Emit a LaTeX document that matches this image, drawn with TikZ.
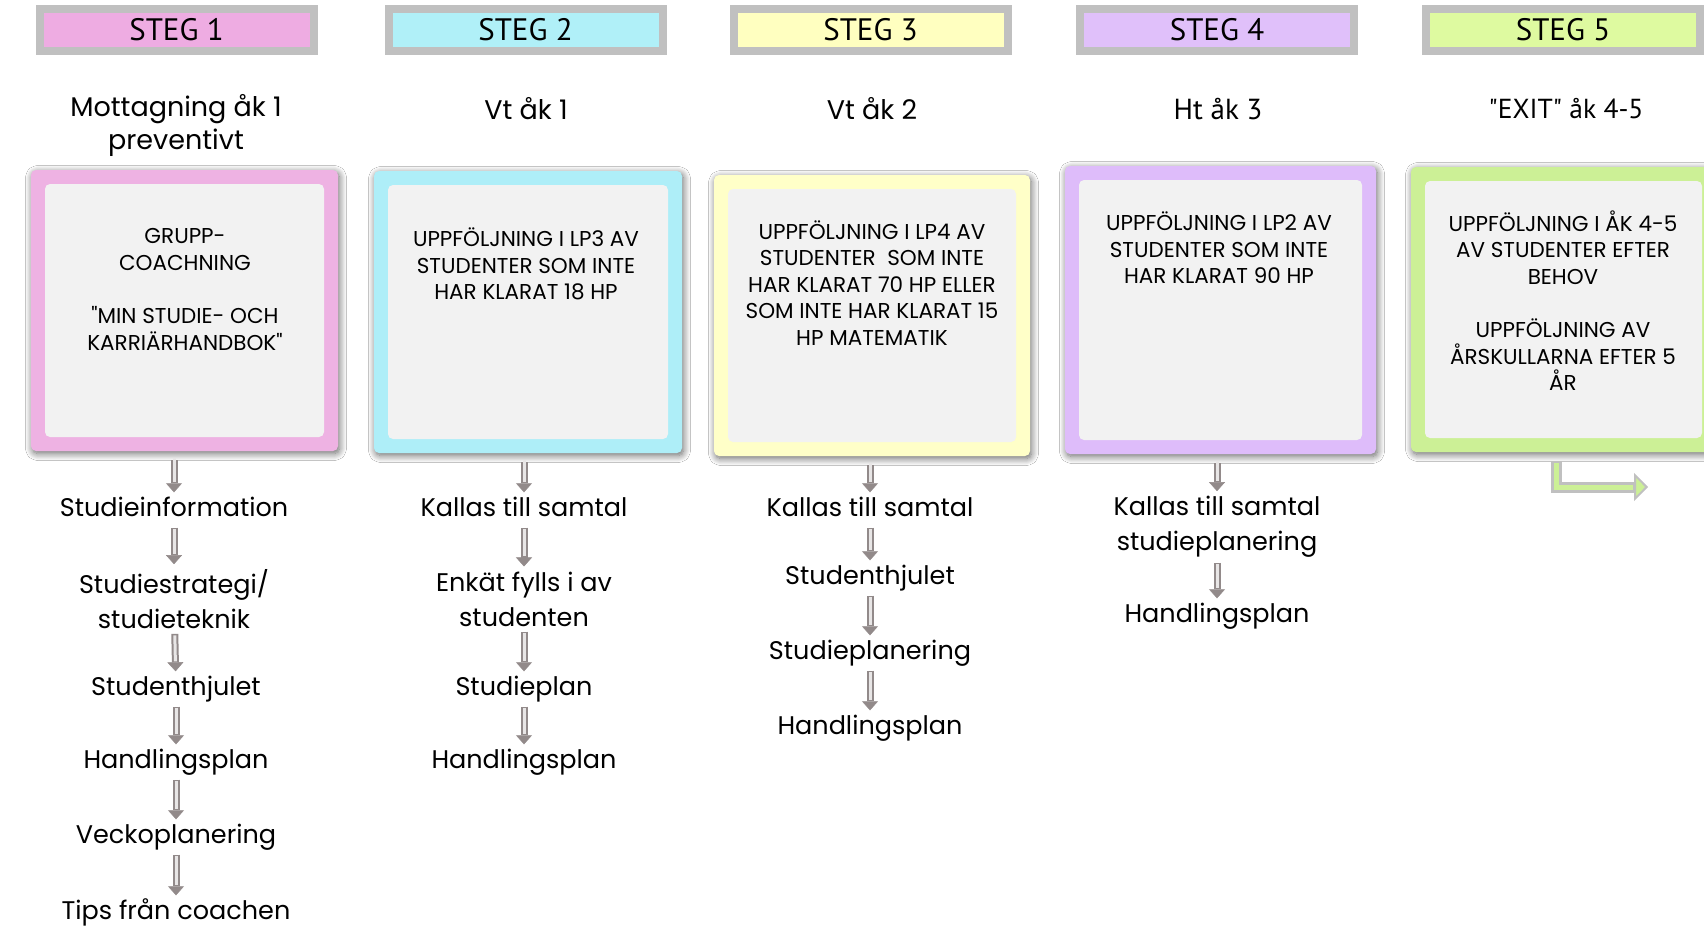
\documentclass[tikz,border=0pt]{standalone}
\usepackage{fontspec}
\setmainfont{Poppins}[Ligatures=TeXOff]
\newfontfamily\stegfont{PT Sans}
\usepackage{tikz}
\usetikzlibrary{positioning}
\usetikzlibrary{arrows.meta}
\usetikzlibrary{shadows.blur}

\definecolor{framegray}{RGB}{192,192,192}
\definecolor{boxfill}{RGB}{242,242,242}
\definecolor{arrowgray}{RGB}{146,138,138}
\definecolor{arrowfill}{RGB}{232,230,230}
\definecolor{pinkhd}{RGB}{238,172,226}
\definecolor{cyanhd}{RGB}{176,240,248}
\definecolor{yellowhd}{RGB}{255,255,192}
\definecolor{lilachd}{RGB}{224,192,250}
\definecolor{greenhd}{RGB}{222,250,160}
\definecolor{pinkbox}{RGB}{238,178,227}
\definecolor{cyanbox}{RGB}{174,238,248}
\definecolor{yellowbox}{RGB}{255,255,200}
\definecolor{lilacbox}{RGB}{222,188,250}
\definecolor{greenbox}{RGB}{204,240,150}

\tikzset{
    stegbox/.style={draw=framegray, line width=8pt,
        minimum width=274pt, minimum height=42pt, inner sep=0pt,
        font=\stegfont\fontsize{31}{33}\selectfont},
    termtext/.style={align=center, inner sep=0pt,
        font=\fontsize{27}{33}\selectfont},
    coachbox/.style={rounded corners=5pt, inner sep=0pt,
        blur shadow={shadow blur steps=10, shadow xshift=1.5pt,
            shadow yshift=-2.5pt, shadow blur radius=7pt, shadow opacity=60},
        path picture={\fill[boxfill]
            ([shift={(14pt,-14pt)}]path picture bounding box.north west)
            rectangle
            ([shift={(-14pt,14pt)}]path picture bounding box.south east);}},
    boxtext/.style={align=center, inner sep=0pt,
        font=\fontsize{21.5}{26.6}\selectfont},
    flowitem/.style={align=center, inner sep=0pt,
        font=\fontsize{25.5}{35}\selectfont},
    oneline/.style={text height=19pt, text depth=6pt},
    flowarr/.style={draw=arrowgray, line width=7pt,
        -{Triangle[length=9pt, width=16pt, line width=0.5pt]},
        shorten <=5pt, shorten >=5pt,
        postaction={draw=arrowfill, line width=3pt, -,
            shorten <=6.5pt, shorten >=15pt}},
    exitarr/.style={draw=framegray, line width=11pt,
        -{Triangle[length=14pt, width=28pt, line width=2pt, fill=greenbox]},
        postaction={draw=greenbox, line width=5pt, -,
            shorten <=2pt, shorten >=15pt}}
}

\begin{document}
\begin{tikzpicture}[x=1pt, y=-1pt]
        \fill[white] (0,0) rectangle (1704,926);
        \useasboundingbox (0,0) rectangle (1704,926);

        \foreach \i/\x/\c in {1/176.5/pinkhd, 2/525.5/cyanhd,
            3/870.5/yellowhd, 4/1217/lilachd, 5/1563/greenhd}
        {
            \node[stegbox, fill=\c] (steg\i) at (\x,29.5) {STEG \i};
        }

        \node[termtext] (term1) at (176,125.5) {Mottagning åk 1\\preventivt};
        \node[termtext] (term2) at (526,109) {Vt åk 1};
        \node[termtext] (term3) at (872,109) {Vt åk 2};
        \node[termtext, font=\stegfont\fontsize{29}{33}\selectfont]
        (term4) at (1218,109) {Ht åk 3};
        \node[termtext, font=\stegfont\fontsize{27.5}{33}\selectfont]
        (term5) at (1566,109) {"EXIT" åk 4-5};

        \node[coachbox, fill=pinkbox,
            minimum width=307pt, minimum height=281pt]
        (box1) at (184.5,310.5) {};
        \node[coachbox, fill=cyanbox,
            minimum width=308pt, minimum height=282pt]
        (box2) at (528,312) {};
        \node[coachbox, fill=yellowbox,
            minimum width=316pt, minimum height=281pt]
        (box3) at (872,315.5) {};
        \node[coachbox, fill=lilacbox,
            minimum width=311pt, minimum height=288pt]
        (box4) at (1220.5,310) {};
        \node[coachbox, fill=greenbox,
            minimum width=305pt, minimum height=285pt]
        (box5) at (1563.5,309.5) {};

        \node[boxtext] (boxtext1) at (185,289.5)
        {GRUPP-\\COACHNING\\[26.6pt]"MIN STUDIE- OCH\\KARRIÄRHANDBOK"};
        \node[boxtext] (boxtext2) at (526,264)
        {UPPFÖLJNING I LP3 AV\\STUDENTER SOM INTE\\HAR KLARAT 18 HP};
        \node[boxtext] (boxtext3) at (872,283)
        {UPPFÖLJNING I LP4 AV\\STUDENTER\ \ SOM INTE\\HAR KLARAT 70 HP ELLER\\SOM INTE HAR KLARAT 15\\HP MATEMATIK};
        \node[boxtext] (boxtext4) at (1219,248)
        {UPPFÖLJNING I LP2 AV\\STUDENTER SOM INTE\\HAR KLARAT 90 HP};
        \node[boxtext] (boxtext5) at (1563,300.5)
        {UPPFÖLJNING I ÅK 4-5\\AV STUDENTER EFTER\\BEHOV\\[26.6pt]UPPFÖLJNING AV\\ÅRSKULLARNA EFTER 5\\ÅR};

        \node[flowitem, oneline] (item11) at (174,510) {Studieinformation};
        \node[flowitem] (item12) at (174,599) {Studiestrategi/\\studieteknik};
        \node[flowitem, oneline] (item13) at (176,689) {Studenthjulet};
        \node[flowitem, oneline] (item14) at (176,762) {Handlingsplan};
        \node[flowitem, oneline] (item15) at (176,837) {Veckoplanering};
        \node[flowitem, oneline] (item16) at (176,913) {Tips från coachen};

        \node[flowitem, oneline] (item21) at (524,510) {Kallas till samtal};
        \node[flowitem] (item22) at (524,599) {Enkät fylls i av\\studenten};
        \node[flowitem, oneline] (item23) at (524,689) {Studieplan};
        \node[flowitem, oneline] (item24) at (524,762) {Handlingsplan};

        \node[flowitem, oneline] (item31) at (870,510) {Kallas till samtal};
        \node[flowitem, oneline] (item32) at (870,578) {Studenthjulet};
        \node[flowitem, oneline] (item33) at (870,653) {Studieplanering};
        \node[flowitem, oneline] (item34) at (870,728) {Handlingsplan};

        \node[flowitem] (item41) at (1217,527) {Kallas till samtal\\studieplanering};
        \node[flowitem, oneline] (item42) at (1217,616) {Handlingsplan};

        \foreach \u in {1,2,3,4}
        {
            \draw[flowarr, shorten <=9pt] (box\u.south -| item\u1) -- (item\u1);
        }

        \foreach \a/\b in {11/12, 12/13, 13/14, 14/15, 15/16,
            21/22, 22/23, 23/24, 31/32, 32/33, 33/34, 41/42}
        {
            \draw[flowarr] (item\a) -- (item\b);
        }

        \coordinate (exitstart) at (1556,461);
        \coordinate (exitend) at (1648,487);
        \draw[exitarr] (exitstart) |- (exitend);
\end{tikzpicture}
\end{document}
